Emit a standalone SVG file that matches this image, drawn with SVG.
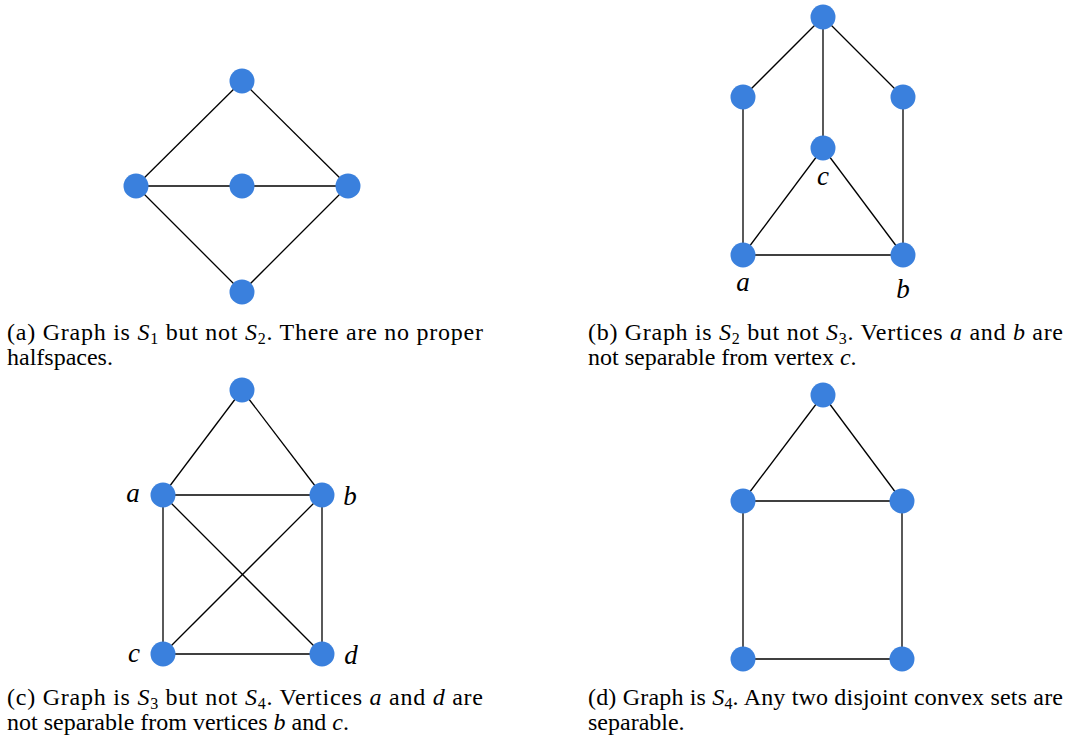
<svg xmlns="http://www.w3.org/2000/svg" width="1070" height="740" viewBox="0 0 1070 740">
<style>
.e{stroke:#000;stroke-width:1.3;fill:none}
.n{fill:#3a80dd}
.cap{font-family:"Liberation Serif",serif;font-size:24px;fill:#000}
.m{font-style:italic}
.s{font-size:16px}
.lbl{font-family:"Liberation Serif",serif;font-size:27px;font-style:italic;fill:#000}
</style>
<rect width="1070" height="740" fill="#fff"/>
<g id="connectors">
<line class="e" x1="242" y1="81" x2="136" y2="186"/>
<line class="e" x1="242" y1="81" x2="348" y2="186"/>
<line class="e" x1="136" y1="186" x2="348" y2="186"/>
<line class="e" x1="136" y1="186" x2="242" y2="292"/>
<line class="e" x1="348" y1="186" x2="242" y2="292"/>
<line class="e" x1="823" y1="17" x2="743" y2="97"/>
<line class="e" x1="823" y1="17" x2="903" y2="97"/>
<line class="e" x1="823" y1="17" x2="823" y2="148"/>
<line class="e" x1="743" y1="97" x2="743" y2="255"/>
<line class="e" x1="903" y1="97" x2="903" y2="255"/>
<line class="e" x1="823" y1="148" x2="743" y2="255"/>
<line class="e" x1="823" y1="148" x2="903" y2="255"/>
<line class="e" x1="743" y1="255" x2="903" y2="255"/>
<line class="e" x1="242" y1="390" x2="163" y2="495"/>
<line class="e" x1="242" y1="390" x2="322" y2="495"/>
<line class="e" x1="163" y1="495" x2="322" y2="495"/>
<line class="e" x1="163" y1="495" x2="163" y2="654"/>
<line class="e" x1="322" y1="495" x2="322" y2="654"/>
<line class="e" x1="163" y1="495" x2="322" y2="654"/>
<line class="e" x1="322" y1="495" x2="163" y2="654"/>
<line class="e" x1="163" y1="654" x2="322" y2="654"/>
<line class="e" x1="823" y1="395" x2="743" y2="501"/>
<line class="e" x1="823" y1="395" x2="902" y2="501"/>
<line class="e" x1="743" y1="501" x2="902" y2="501"/>
<line class="e" x1="743" y1="501" x2="743" y2="659"/>
<line class="e" x1="902" y1="501" x2="902" y2="659"/>
<line class="e" x1="743" y1="659" x2="902" y2="659"/>
</g>
<g id="graph-a">
<circle id="a1" class="n" cx="242" cy="81" r="12.5"/>
<circle id="a2" class="n" cx="136" cy="186" r="12.5"/>
<circle id="a3" class="n" cx="242" cy="186" r="12.5"/>
<circle id="a4" class="n" cx="348" cy="186" r="12.5"/>
<circle id="a5" class="n" cx="242" cy="292" r="12.5"/>
</g>
<g id="graph-b">
<circle id="b1" class="n" cx="823" cy="17" r="12.5"/>
<circle id="b2" class="n" cx="743" cy="97" r="12.5"/>
<circle id="b3" class="n" cx="903" cy="97" r="12.5"/>
<g id="b-c"><circle class="n" cx="823" cy="148" r="12.5"/><text class="lbl" x="823" y="185" text-anchor="middle">c</text></g>
<g id="b-a"><circle class="n" cx="743" cy="255" r="12.5"/><text class="lbl" x="743" y="291" text-anchor="middle">a</text></g>
<g id="b-b"><circle class="n" cx="903" cy="255" r="12.5"/><text class="lbl" x="903" y="298" text-anchor="middle">b</text></g>
</g>
<g id="graph-c">
<circle id="c1" class="n" cx="242" cy="390" r="12.5"/>
<g id="c-a"><circle class="n" cx="163" cy="495" r="12.5"/><text class="lbl" x="133" y="502" text-anchor="middle">a</text></g>
<g id="c-b"><circle class="n" cx="322" cy="495" r="12.5"/><text class="lbl" x="350" y="505" text-anchor="middle">b</text></g>
<g id="c-c"><circle class="n" cx="163" cy="654" r="12.5"/><text class="lbl" x="134" y="662" text-anchor="middle">c</text></g>
<g id="c-d"><circle class="n" cx="322" cy="654" r="12.5"/><text class="lbl" x="351" y="664" text-anchor="middle">d</text></g>
</g>
<g id="graph-d">
<circle id="d1" class="n" cx="823" cy="395" r="12.5"/>
<circle id="d2" class="n" cx="743" cy="501" r="12.5"/>
<circle id="d3" class="n" cx="902" cy="501" r="12.5"/>
<circle id="d4" class="n" cx="743" cy="659" r="12.5"/>
<circle id="d5" class="n" cx="902" cy="659" r="12.5"/>
</g>
<g id="captions">
<text class="cap" x="7" y="340" textLength="476" lengthAdjust="spacing">(a) Graph is <tspan class="m">S</tspan><tspan class="s" dy="4">1</tspan><tspan dy="-4"> but not </tspan><tspan class="m">S</tspan><tspan class="s" dy="4">2</tspan><tspan dy="-4">.  There are no proper</tspan></text>
<text class="cap" x="7" y="365">halfspaces.</text>
<text class="cap" x="588" y="340" textLength="475" lengthAdjust="spacing">(b) Graph is <tspan class="m">S</tspan><tspan class="s" dy="4">2</tspan><tspan dy="-4"> but not </tspan><tspan class="m">S</tspan><tspan class="s" dy="4">3</tspan><tspan dy="-4">.  Vertices </tspan><tspan class="m">a</tspan> and <tspan class="m">b</tspan> are</text>
<text class="cap" x="588" y="365">not separable from vertex <tspan class="m">c</tspan>.</text>
<text class="cap" x="7" y="705" textLength="476" lengthAdjust="spacing">(c) Graph is <tspan class="m">S</tspan><tspan class="s" dy="4">3</tspan><tspan dy="-4"> but not </tspan><tspan class="m">S</tspan><tspan class="s" dy="4">4</tspan><tspan dy="-4">.  Vertices </tspan><tspan class="m">a</tspan> and <tspan class="m">d</tspan> are</text>
<text class="cap" x="7" y="730">not separable from vertices <tspan class="m">b</tspan> and <tspan class="m">c</tspan>.</text>
<text class="cap" x="588" y="705" textLength="475" lengthAdjust="spacing">(d) Graph is <tspan class="m">S</tspan><tspan class="s" dy="4">4</tspan><tspan dy="-4">. Any two disjoint convex sets are</tspan></text>
<text class="cap" x="588" y="730">separable.</text>
</g>
</svg>
